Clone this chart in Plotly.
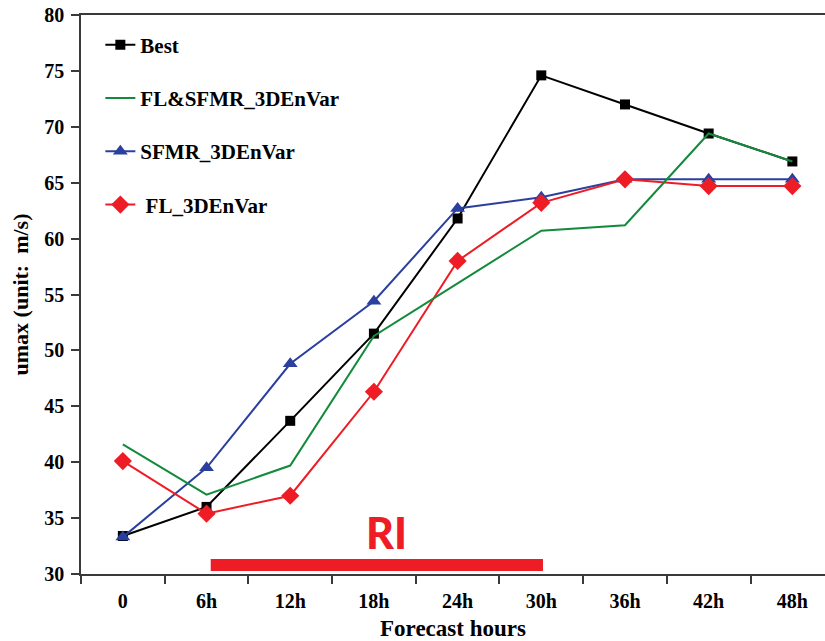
import plotly.graph_objects as go

# Forecast lead times (category labels on the x axis)
hours = ["0", "6h", "12h", "18h", "24h", "30h", "36h", "42h", "48h"]

# Maximum wind speed (m/s) for the best track and the three experiments
best = [33.4, 36.0, 43.7, 51.5, 61.8, 74.6, 72.0, 69.4, 66.9]
fl_sfmr = [41.6, 37.1, 39.7, 51.3, 56.0, 60.7, 61.2, 69.4, 66.9]
sfmr = [33.3, 39.5, 48.8, 54.4, 62.7, 63.7, 65.3, 65.3, 65.3]
fl = [40.1, 35.4, 37.0, 46.3, 58.0, 63.2, 65.3, 64.7, 64.7]

# Rapid-intensification window, in category positions along the x axis
ri_window = [1.05, 5.02]
ri_label = "RI"

serif = "Liberation Serif"
axis_color = "#3a3a3a"

fig = go.Figure()

fig.add_trace(go.Scatter(
    x=hours, y=best, name="Best", mode="lines+markers",
    line=dict(color="#000000", width=2),
    marker=dict(symbol="square", size=10, color="#000000"),
    legendgroup="a", legendrank=1,
))
fig.add_trace(go.Scatter(
    x=hours, y=sfmr, name="SFMR_3DEnVar", mode="lines+markers",
    line=dict(color="#2b3f9e", width=2),
    marker=dict(symbol="triangle-up", size=13, color="#2b3f9e"),
    legendgroup="c", legendrank=3,
))
fig.add_trace(go.Scatter(
    x=hours, y=fl, name=" FL_3DEnVar", mode="lines+markers",
    line=dict(color="#ee1c25", width=2),
    marker=dict(symbol="diamond", size=14, color="#ee1c25"),
    legendgroup="d", legendrank=4,
))
fig.add_trace(go.Scatter(
    x=hours, y=fl_sfmr, name="FL&SFMR_3DEnVar", mode="lines",
    line=dict(color="#138a3c", width=2),
    legendgroup="b", legendrank=2,
))

# RI bar just above the x axis
fig.add_shape(
    type="rect", xref="x", yref="y",
    x0=ri_window[0], x1=ri_window[1], y0=30.27, y1=31.35,
    fillcolor="#ee1c25", line=dict(width=0), layer="above",
)
fig.add_annotation(
    x=(ri_window[0] + ri_window[1]) / 2 + 0.12, y=33.7, xref="x", yref="y",
    text=ri_label, showarrow=False,
    font=dict(family="Lato", size=43, color="#ee1c25", weight=900),
)

fig.update_layout(
    width=825, height=641,
    margin=dict(l=81, r=0, t=15, b=67),
    paper_bgcolor="white", plot_bgcolor="white",
    showlegend=True,
    legend=dict(
        x=0.026, y=0.983, xanchor="left", yanchor="top",
        bgcolor="rgba(0,0,0,0)", borderwidth=0,
        font=dict(family=serif, size=21, color="#000000", weight="bold"),
        tracegroupgap=23, traceorder="grouped",
    ),
    font=dict(family=serif, color="#000000"),
)

fig.update_xaxes(
    type="category", categoryorder="array", categoryarray=hours,
    range=[-0.5, 8.39],
    tickson="boundaries", ticks="outside", ticklen=8, tickwidth=1.5,
    tickcolor=axis_color, ticklabelstandoff=8,
    showline=True, linecolor=axis_color, linewidth=1.5, mirror=True,
    showgrid=False, zeroline=False,
    tickfont=dict(family=serif, size=20, color="#000000", weight="bold"),
    title=dict(text="Forecast hours", standoff=12,
               font=dict(family=serif, size=23, color="#000000", weight="bold")),
)
fig.update_yaxes(
    range=[30, 80], dtick=5, tick0=30,
    ticks="outside", ticklen=8, tickwidth=1.5, tickcolor=axis_color,
    ticklabelstandoff=3,
    showline=True, linecolor=axis_color, linewidth=1.5, mirror=False,
    showgrid=False, zeroline=False,
    tickfont=dict(family=serif, size=20, color="#000000", weight="bold"),
    title=dict(text="umax (unit:  m/s)", standoff=10,
               font=dict(family=serif, size=22, color="#000000", weight="bold")),
)

fig.write_html("out.html")
